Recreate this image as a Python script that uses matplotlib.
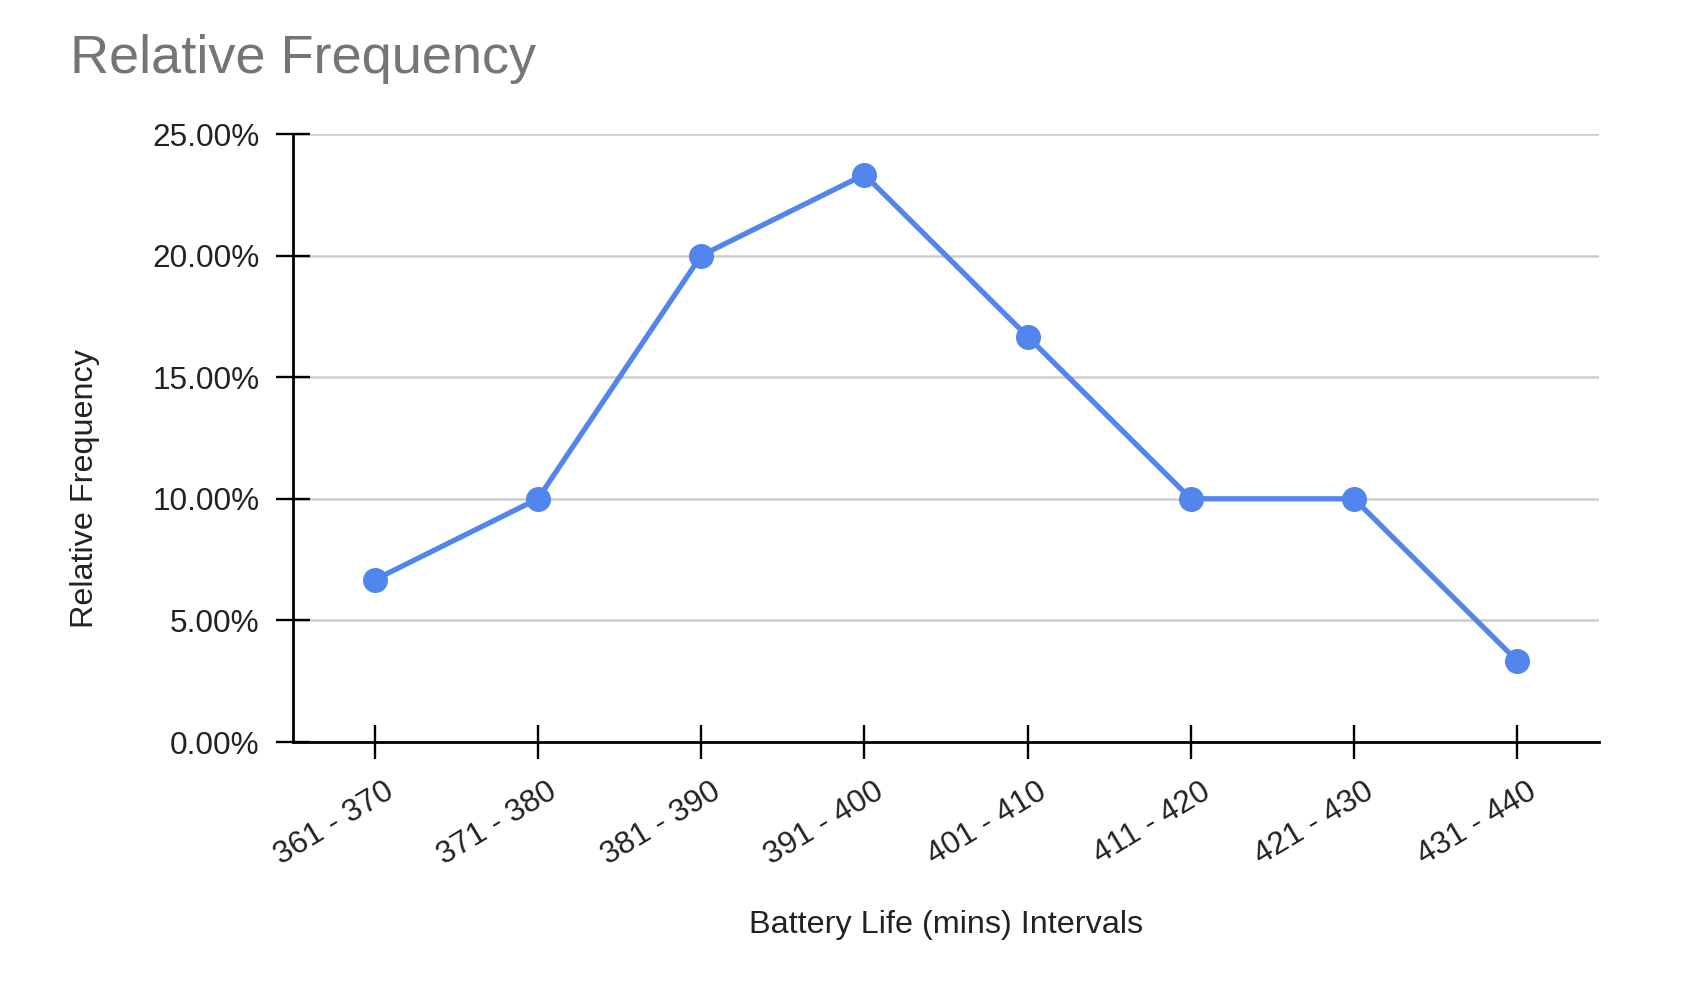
import matplotlib
matplotlib.use("Agg")
import matplotlib.pyplot as plt
from matplotlib.ticker import FuncFormatter
from matplotlib.transforms import ScaledTranslation

intervals = ["361 - 370", "371 - 380", "381 - 390", "391 - 400",
             "401 - 410", "411 - 420", "421 - 430", "431 - 440"]
rel_freq = [6.67, 10.00, 20.00, 23.33, 16.67, 10.00, 10.00, 3.33]
y_ticks = [0, 5, 10, 15, 20, 25]

plt.rcParams['font.family'] = ['Liberation Sans', 'DejaVu Sans']

W, H = 1698, 988
fig = plt.figure(figsize=(W / 100, H / 100), dpi=100)
ax = fig.add_axes([293 / W, 1 - 742 / H, (1599 - 293) / W, (742 - 134) / H])

x = list(range(len(intervals)))
ax.plot(x, rel_freq, color='#5286ec', linewidth=3.8, marker='o',
        markersize=17, zorder=3, solid_capstyle='round')

ax.set_xlim(-0.5, len(intervals) - 0.5)
ax.set_ylim(0, 25)
ax.set_yticks(y_ticks)
ax.yaxis.set_major_formatter(FuncFormatter(lambda v, p: f"{v:.2f}%"))
ax.set_xticks(x)
ax.set_xticklabels(intervals, rotation=31, ha='right', va='top',
                   rotation_mode='anchor')

ax.grid(axis='y', color='#cccccc', linewidth=1.8)
ax.set_axisbelow(True)
for s in ['top', 'right']:
    ax.spines[s].set_visible(False)
for s in ['left', 'bottom']:
    ax.spines[s].set_linewidth(2)
    ax.spines[s].set_color('black')
    ax.spines[s].set_zorder(4)

ax.tick_params(axis='both', direction='inout', length=24, width=1.7,
               color='black', labelsize=22.7, labelcolor='#222222')
ax.tick_params(axis='y', pad=12)
ax.tick_params(axis='x', pad=13)

# nudge the rotated x labels to the right, like in the sheet
shift = ScaledTranslation(9 / 100, 0, fig.dpi_scale_trans)
for lbl in ax.get_xticklabels():
    lbl.set_transform(lbl.get_transform() + shift)

fig.text(70 / W, 1 - 73 / H, "Relative Frequency", fontsize=39,
         color='#757575', ha='left', va='baseline')
ax.set_xlabel("Battery Life (mins) Intervals", fontsize=23.3, color='#222222',
              va='baseline')
ax.xaxis.set_label_coords(0.5, (742 - 933) / (742 - 134))
fig.text(85 / W, 1 - 488 / H, "Relative Frequency", fontsize=23.3,
         color='#222222', rotation=90, ha='center', va='center')

fig.savefig("out.png", dpi=100, facecolor='white')
